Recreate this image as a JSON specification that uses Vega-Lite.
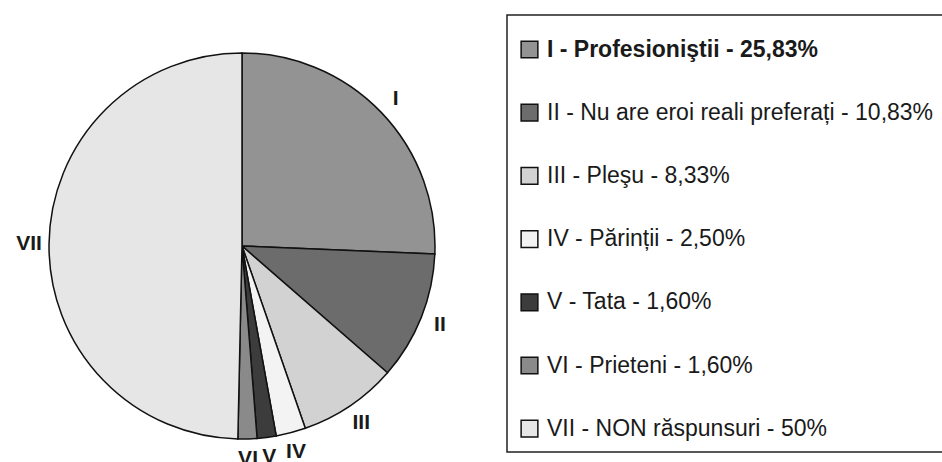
{
  "$schema": "https://vega.github.io/schema/vega-lite/v6.json",
  "width": 942,
  "height": 462,
  "autosize": {"type": "none"},
  "padding": 0,
  "background": "white",
  "config": {"view": {"stroke": null}, "font": "Liberation Sans"},
  "data": {
    "values": [
      {"ord": 1, "cod": "I", "eticheta": "I - Profesioniştii - 25,83%", "procent": 25.83},
      {"ord": 2, "cod": "II", "eticheta": "II - Nu are eroi reali preferați - 10,83%", "procent": 10.83},
      {"ord": 3, "cod": "III", "eticheta": "III - Pleşu - 8,33%", "procent": 8.33},
      {"ord": 4, "cod": "IV", "eticheta": "IV - Părinții - 2,50%", "procent": 2.5},
      {"ord": 5, "cod": "V", "eticheta": "V - Tata - 1,60%", "procent": 1.6},
      {"ord": 6, "cod": "VI", "eticheta": "VI - Prieteni - 1,60%", "procent": 1.6},
      {"ord": 7, "cod": "VII", "eticheta": "VII - NON răspunsuri - 50%", "procent": 50}
    ]
  },
  "layer": [
    {
      "mark": {"type": "arc", "x": 242, "y": 246, "outerRadius": 193, "stroke": "#111111", "strokeWidth": 1.5},
      "encoding": {
        "theta": {"field": "procent", "type": "quantitative", "stack": true},
        "order": {"field": "ord", "type": "quantitative"},
        "color": {
          "field": "eticheta",
          "type": "nominal",
          "scale": {
            "domain": [
              "I - Profesioniştii - 25,83%",
              "II - Nu are eroi reali preferați - 10,83%",
              "III - Pleşu - 8,33%",
              "IV - Părinții - 2,50%",
              "V - Tata - 1,60%",
              "VI - Prieteni - 1,60%",
              "VII - NON răspunsuri - 50%"
            ],
            "range": ["#939393", "#6c6c6c", "#d2d2d2", "#f3f3f3", "#3c3c3c", "#8a8a8a", "#e6e6e6"]
          },
          "legend": {
            "orient": "none",
            "legendX": 507,
            "legendY": 15,
            "title": " ",
            "titleFontSize": 2,
            "titlePadding": 10,
            "symbolType": "square",
            "symbolSize": 280,
            "symbolStrokeColor": "#111111",
            "symbolStrokeWidth": 1.5,
            "labelFont": "Liberation Sans",
            "labelFontSize": 23,
            "labelColor": "#1a1a1a",
            "labelLimit": 800,
            "labelOffset": 6,
            "labelFontWeight": {"expr": "datum.index === 0 ? 'bold' : 'normal'"},
            "rowPadding": 39.2,
            "padding": 11,
            "strokeColor": "#222222",
            "encode": {"legend": {"update": {"strokeWidth": {"value": 1.5}}}}
          }
        }
      }
    },
    {
      "mark": {"type": "text", "x": 242, "y": 246, "radius": 213, "fontSize": 21, "fontWeight": "bold", "font": "Liberation Sans", "fill": "#1a1a1a", "align": "center", "baseline": "middle"},
      "encoding": {
        "theta": {"field": "procent", "type": "quantitative", "stack": true},
        "order": {"field": "ord", "type": "quantitative"},
        "text": {"field": "cod", "type": "nominal"}
      }
    }
  ]
}
